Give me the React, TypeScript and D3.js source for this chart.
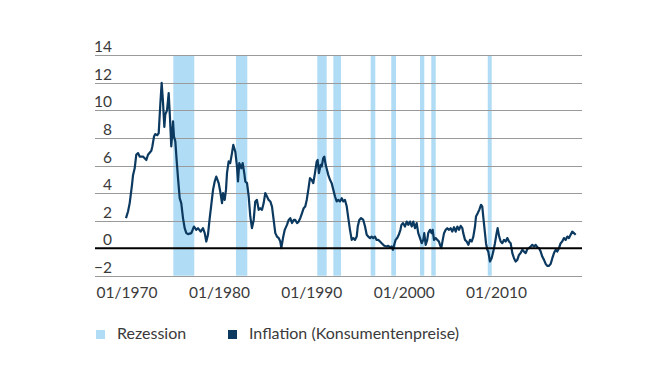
import React from "react";
import * as d3 from "d3";

const yTicks = [-2, 0, 2, 4, 6, 8, 10, 12, 14];
const xTickYears = [1970, 1980, 1990, 2000, 2010];

const recessionStart = [1975.12, 1981.9, 1990.7, 1992.44, 1996.48, 1998.71, 2001.82, 2003.04, 2009.15];
const recessionEnd = [1977.39, 1983.13, 1991.72, 1993.27, 1996.98, 1999.22, 2002.28, 2003.52, 2009.58];

const dates = [
  1970.0, 1970.22, 1970.4, 1970.65, 1970.76, 1970.94, 1971.11, 1971.3, 1971.48, 1971.84,
  1972.2, 1972.38, 1972.74, 1972.85, 1973.03, 1973.17, 1973.39, 1973.54, 1973.71, 1973.86,
  1974.0, 1974.15, 1974.25, 1974.44, 1974.62, 1974.76, 1974.9, 1975.01, 1975.09, 1975.19,
  1975.34, 1975.49, 1975.63, 1975.81, 1975.98, 1976.17, 1976.35, 1976.53, 1976.71, 1977.07,
  1977.36, 1977.61, 1977.79, 1978.08, 1978.33, 1978.52, 1978.69, 1978.87, 1979.06, 1979.23,
  1979.42, 1979.6, 1979.77, 1980.03, 1980.2, 1980.39, 1980.5, 1980.68, 1980.82, 1980.93,
  1981.11, 1981.28, 1981.47, 1981.61, 1981.83, 1982.01, 1982.12, 1982.26, 1982.48, 1982.63,
  1982.8, 1982.91, 1983.1, 1983.28, 1983.45, 1983.63, 1983.82, 1983.99, 1984.17, 1984.36,
  1984.53, 1984.72, 1984.9, 1985.07, 1985.26, 1985.44, 1985.62, 1985.8, 1985.98, 1986.16,
  1986.34, 1986.53, 1986.7, 1986.81, 1986.99, 1987.18, 1987.42, 1987.61, 1987.78, 1987.97,
  1988.15, 1988.32, 1988.51, 1988.69, 1988.86, 1989.05, 1989.23, 1989.4, 1989.56, 1989.73,
  1989.91, 1990.09, 1990.27, 1990.45, 1990.64, 1990.74, 1990.88, 1991.07, 1991.18, 1991.35,
  1991.46, 1991.61, 1991.75, 1991.89, 1992.08, 1992.26, 1992.44, 1992.62, 1992.8, 1992.98,
  1993.16, 1993.35, 1993.52, 1993.7, 1993.89, 1994.06, 1994.24, 1994.43, 1994.6, 1994.78,
  1994.97, 1995.08, 1995.25, 1995.44, 1995.68, 1995.87, 1996.05, 1996.22, 1996.41, 1996.58,
  1996.76, 1996.94, 1997.12, 1997.3, 1997.49, 1997.67, 1997.95, 1998.21, 1998.38, 1998.57,
  1998.75, 1998.89, 1999.03, 1999.18, 1999.35, 1999.52, 1999.7, 1999.81, 1999.98, 2000.19,
  2000.38, 2000.55, 2000.74, 2000.92, 2001.09, 2001.28, 2001.46, 2001.63, 2001.82, 2002.0,
  2002.17, 2002.28, 2002.43, 2002.6, 2002.71, 2002.9, 2003.08, 2003.19, 2003.33, 2003.52,
  2003.69, 2003.87, 2003.98, 2004.12, 2004.28, 2004.42, 2004.6, 2004.77, 2004.96, 2005.14,
  2005.31, 2005.5, 2005.68, 2005.86, 2006.04, 2006.22, 2006.4, 2006.5, 2006.69, 2006.87,
  2007.05, 2007.23, 2007.42, 2007.59, 2007.77, 2007.88, 2008.06, 2008.23, 2008.42, 2008.56,
  2008.66, 2008.85, 2008.96, 2009.1, 2009.21, 2009.39, 2009.57, 2009.75, 2009.93, 2010.11,
  2010.22, 2010.39, 2010.55, 2010.72, 2010.91, 2011.09, 2011.27, 2011.45, 2011.63, 2011.81,
  2011.99, 2012.17, 2012.35, 2012.53, 2012.71, 2012.89, 2013.07, 2013.26, 2013.43, 2013.61,
  2013.8, 2013.97, 2014.16, 2014.34, 2014.51, 2014.7, 2014.88, 2015.05, 2015.24, 2015.42,
  2015.59, 2015.78, 2015.96, 2016.14, 2016.32, 2016.5, 2016.67, 2016.86, 2017.04, 2017.21,
  2017.4, 2017.58, 2017.76, 2017.94, 2018.12, 2018.3, 2018.48, 2018.67,
];

const inflation = [
  2.18, 2.66, 3.27, 4.6, 5.3, 5.8, 6.78, 6.9, 6.65, 6.65,
  6.4, 6.78, 7.07, 7.38, 8.1, 8.28, 8.2, 8.35, 10.4, 12.0,
  10.65, 8.8, 9.7, 10.0, 11.25, 9.45, 7.38, 8.35, 9.2, 8.1,
  7.75, 6.3, 5.08, 3.63, 3.27, 2.18, 1.45, 1.09, 1.02, 1.09,
  1.57, 1.33, 1.45, 1.2, 1.45, 1.09, 0.48, 0.97, 2.18, 3.15,
  4.23, 4.84, 5.2, 4.72, 4.11, 3.27, 4.0, 3.5, 4.23, 5.45,
  6.3, 6.17, 6.9, 7.5, 7.0, 5.93, 4.84, 6.17, 5.8, 6.17,
  5.45, 4.84, 4.72, 3.75, 2.3, 1.45, 2.05, 3.39, 3.5, 2.78,
  2.9, 2.78, 3.27, 4.0, 3.75, 3.5, 3.39, 3.02, 2.05, 1.09,
  0.84, 0.73, 0.48, 0.0, 0.73, 1.33, 1.69, 2.05, 2.18, 1.82,
  2.05, 2.05, 1.82, 1.93, 2.18, 2.54, 2.9, 3.02, 3.5, 4.23,
  5.08, 4.96, 4.72, 5.45, 6.29, 6.4, 5.45, 6.05, 5.93, 6.54,
  6.65, 6.05, 5.69, 5.32, 4.96, 4.72, 4.23, 3.75, 3.39, 3.5,
  3.39, 3.63, 3.39, 3.5, 3.02, 2.18, 1.33, 0.6, 0.73, 0.6,
  0.84, 1.57, 2.05, 2.18, 2.05, 1.57, 0.97, 0.84, 0.73, 0.84,
  0.73, 0.84, 0.6, 0.6, 0.48, 0.36, 0.17, 0.12, 0.17, 0.07,
  0.12, -0.12, 0.24, 0.6, 0.73, 0.97, 1.33, 1.69, 1.82, 1.57,
  1.93, 1.69, 1.93, 1.57, 1.93, 1.45, 1.82, 1.09, 0.73, 0.36,
  0.6, 1.09, 0.24, 0.6, 1.09, 1.33, 1.09, 1.33, 0.6, 0.73,
  0.6, 0.48, 0.24, 0.0, 0.6, 1.09, 1.33, 1.45, 1.33, 1.45,
  1.2, 1.52, 1.2, 1.57, 1.33, 1.62, 1.45, 1.09, 0.6, 0.48,
  0.24, 0.6, 0.48, 0.84, 1.57, 2.3, 2.54, 2.78, 3.15, 3.02,
  2.3, 1.09, 0.36, -0.12, -0.25, -0.97, -0.73, -0.25, 0.36, 1.09,
  1.45, 0.84, 0.48, 0.36, 0.6, 0.48, 0.73, 0.48, 0.36, -0.36,
  -0.73, -0.97, -0.85, -0.49, -0.36, -0.12, -0.25, -0.36, -0.07, 0.0,
  0.12, 0.24, 0.12, 0.24, 0.07, 0.0, -0.25, -0.61, -0.85, -1.14,
  -1.29, -1.29, -1.14, -0.73, -0.36, -0.12, -0.25, 0.0, 0.36, 0.48,
  0.73, 0.6, 0.84, 0.73, 0.97, 1.2, 1.09, 0.97,
];

const legendLabels = ["Rezession", "Inflation (Konsumentenpreise)"];

const RECESSION_COLOR = "#b0ddf5";
const LINE_COLOR = "#0b3960";
const TEXT_COLOR = "#3a3a3a";
const FONT = "Lato, 'Open Sans', sans-serif";

export default function App() {
  const width = 670;
  const height = 377;
  const x = d3.scaleLinear().domain([1970, 2020]).range([126, 126 + 50 * 9.24]);
  const y = d3.scaleLinear().domain([-2, 14]).range([275.7, 55.3]);
  const gridX0 = 95;
  const gridX1 = 582;

  const points: [number, number][] = dates.map((d, i) => [d, inflation[i]]);
  const line = d3
    .line<[number, number]>()
    .x((d) => x(d[0]))
    .y((d) => y(d[1]))
    .curve(d3.curveLinear);

  return (
    <svg
      width={width}
      height={height}
      style={{ position: "absolute", left: 0, top: 0, background: "#fff" }}
      fontFamily={FONT}
    >
      {recessionStart.map((s, i) => (
        <rect
          key={"r" + i}
          x={x(s)}
          y={y(14)}
          width={x(recessionEnd[i]) - x(s)}
          height={y(-2) - y(14)}
          fill={RECESSION_COLOR}
        />
      ))}
      {yTicks.map((t) => (
        <g key={"g" + t}>
          {t !== 0 && (
            <line
              x1={gridX0}
              x2={gridX1}
              y1={Math.round(y(t)) + 0.5}
              y2={Math.round(y(t)) + 0.5}
              stroke="#9a9a9a"
              strokeWidth={1}
            />
          )}
          <text
            x={112}
            y={y(t) - 3}
            textAnchor="end"
            fontSize={15.5}
            fill={TEXT_COLOR}
          >
            {t < 0 ? "\u2212" + Math.abs(t) : String(t)}
          </text>
        </g>
      ))}
      <path
        d={line(points) || ""}
        fill="none"
        stroke={LINE_COLOR}
        strokeWidth={2.2}
        strokeLinejoin="round"
      />
      <line
        x1={gridX0}
        x2={gridX1}
        y1={y(0)}
        y2={y(0)}
        stroke="#000"
        strokeWidth={2}
      />
      {xTickYears.map((yr) => (
        <text
          key={"x" + yr}
          x={x(yr) + 1}
          y={298}
          textAnchor="middle"
          fontSize={15.5}
          fill={TEXT_COLOR}
        >
          {"01/" + yr}
        </text>
      ))}
      <rect x={96} y={330} width={9} height={9} fill={RECESSION_COLOR} />
      <text x={117} y={339} fontSize={16} fill={TEXT_COLOR}>
        {legendLabels[0]}
      </text>
      <rect x={228} y={330} width={9} height={9} fill={LINE_COLOR} />
      <text x={249} y={339} fontSize={16} fill={TEXT_COLOR}>
        {legendLabels[1]}
      </text>
    </svg>
  );
}
